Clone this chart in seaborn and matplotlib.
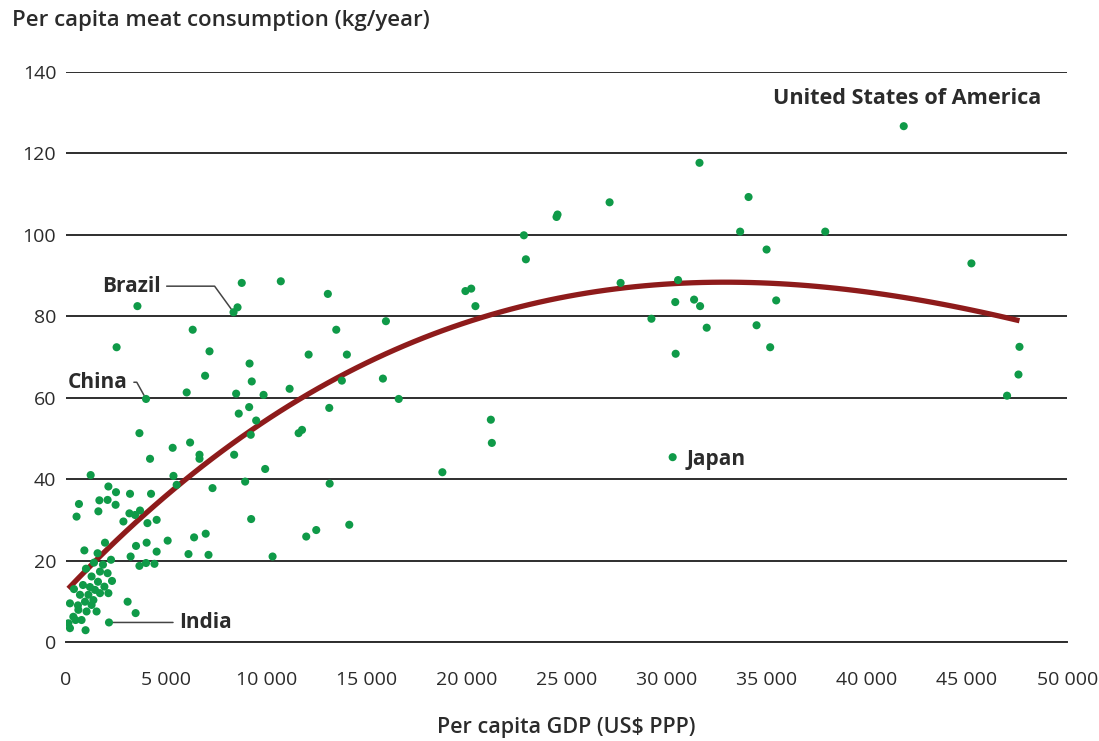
import numpy as np
import pandas as pd
import matplotlib.pyplot as plt
import seaborn as sns

# per capita GDP (US$ PPP) and meat consumption (kg/year)
gdp = [
    # low-income cluster
    200, 120, 200, 370, 480, 620, 700, 780, 950, 980, 1030, 1120, 1280, 1280,
    1370, 1450, 1530, 1700, 1700, 1920, 2080, 2120, 2150, 920, 1580, 1950,
    2250, 3080, 3480, 400, 850, 1000, 1200, 600, 1600, 1850, 2300, 1400,
    # lower-middle
    1235, 4200, 5330, 6200, 6670, 6670, 8400, 5370, 5530, 7320, 2120, 2500,
    3200, 4250, 650, 530, 1670, 2080, 2480, 1620, 3170, 3700, 3450, 2870,
    4070, 4530, 3500, 4030, 4530, 3230, 3670, 4000, 4420, 5080, 6120, 6400,
    6980, 7120,
    # upper-middle
    8780, 10730, 3570, 8570, 8370, 6330, 2530, 7170, 9170, 6950, 9280, 4000,
    6030, 8500, 9870, 8630, 9150, 9500, 3670, 9230, 9950, 11170, 13080, 13500,
    15980, 12120, 14030, 13780, 15830, 16620, 13150, 11620, 11790, 8950,
    13170, 9250, 12000, 12500, 14150, 10320,
    # high-income
    27150, 24500, 24550, 22870, 22970, 19950, 20240, 20450, 27700, 30570,
    30430, 29240, 30450, 21220, 21270, 18800, 30300, 41840, 31640, 34090,
    33670, 37920, 34990, 45220, 31370, 31670, 35470, 32000, 34490, 35170,
    47620, 47570, 47000,
]
meat = [
    9.5, 4.6, 3.4, 6.2, 5.4, 7.9, 11.6, 5.4, 9.9, 2.9, 7.5, 11.6, 9.1, 16.1,
    10.3, 12.8, 7.5, 12.0, 17.3, 13.6, 16.9, 12.0, 4.8, 22.5, 21.8, 24.4,
    20.2, 9.9, 7.1, 13.0, 14.0, 18.0, 13.5, 9.0, 14.8, 19.0, 15.0, 19.5,
    41.0, 45.0, 47.7, 49.0, 46.0, 45.0, 46.0, 40.8, 38.6, 37.8, 38.2, 36.8,
    36.4, 36.4, 33.9, 30.8, 34.8, 34.9, 33.7, 32.1, 31.6, 32.3, 31.2, 29.6,
    29.2, 30.0, 23.6, 24.4, 22.2, 21.0, 18.7, 19.4, 19.2, 24.9, 21.6, 25.7,
    26.6, 21.4,
    88.2, 88.6, 82.5, 82.2, 81.0, 76.7, 72.4, 71.4, 68.4, 65.4, 64.0, 59.7,
    61.3, 61.0, 60.7, 56.1, 57.7, 54.4, 51.3, 50.9, 42.5, 62.2, 85.5, 76.7,
    78.8, 70.6, 70.6, 64.2, 64.7, 59.7, 57.5, 51.3, 52.1, 39.4,
    38.9, 30.2, 25.9, 27.5, 28.8, 21.0,
    108.0, 104.4, 105.0, 99.9, 94.0, 86.2, 86.8, 82.5, 88.2, 88.9,
    83.5, 79.4, 70.8, 54.6, 48.9, 41.7, 45.4, 126.7, 117.7, 109.3,
    100.8, 100.8, 96.4, 93.0, 84.1, 82.5, 83.9, 77.2, 77.8, 72.4,
    72.5, 65.7, 60.5,
]

# labelled countries: (gdp, meat)
labelled = {
    "United States of America": (41840, 126.7),
    "Brazil": (8370, 81.0),
    "China": (4000, 59.7),
    "India": (2150, 4.8),
    "Japan": (30300, 45.4),
}

df = pd.DataFrame({"gdp": gdp, "meat": meat})

sns.set_style("white")
plt.rcParams["font.family"] = ["Open Sans", "DejaVu Sans"]

fig = plt.figure(figsize=(10.99, 7.41), dpi=100)
ax = fig.add_axes([0.060, 0.1336, 0.911, 0.7692])

green = "#0f9a48"
red = "#8e1b1b"
text_col = "#2b2b2b"

for yv in range(0, 141, 20):
    ax.axhline(yv, color="#2e2e2e", lw=1.4, zorder=1)

# fitted trend line
sns.regplot(data=df, x="gdp", y="meat", order=3, ci=None, scatter=False,
            line_kws=dict(color=red, lw=3.8, solid_capstyle="butt", zorder=3), ax=ax)
sns.scatterplot(data=df, x="gdp", y="meat", color=green, s=34, edgecolor="none",
                zorder=4, ax=ax)

ax.set_xlim(0, 50000)
ax.set_ylim(0, 140)
ax.set_xticks(range(0, 50001, 5000))
ax.set_xticklabels([f"{v:,}".replace(",", " ") for v in range(0, 50001, 5000)])
ax.set_yticks(range(0, 141, 20))
for s in ["top", "right", "left"]:
    ax.spines[s].set_visible(False)
ax.spines["bottom"].set_color("#2e2e2e")
ax.spines["bottom"].set_linewidth(1.4)
ax.tick_params(axis="x", direction="out", length=10, width=1.2, color="#2e2e2e",
               labelsize=14, labelcolor=text_col, pad=11)
ax.tick_params(axis="y", length=0, labelsize=14, labelcolor=text_col, pad=7)
ax.set_xlabel("Per capita GDP (US$ PPP)", fontsize=15.5, fontweight="semibold",
              color=text_col, labelpad=20)
ax.set_ylabel("")
fig.text(0.011, 0.972, "Per capita meat consumption (kg/year)", fontsize=16,
         fontweight="semibold", color=text_col, va="center", ha="left")

lab_kw = dict(fontsize=15, fontweight="bold", color=text_col)
leader = dict(arrowstyle="-", color="#444444", lw=1.1, shrinkA=2, shrinkB=3)

ax.text(48700, 133.5, "United States of America", ha="right", va="center",
        fontsize=15.6, fontweight="bold", color=text_col)

x, y = labelled["Brazil"]
ax.annotate("Brazil", xy=(x, y), xytext=(1800, 87.4), ha="left", va="center",
            arrowprops=dict(connectionstyle="angle,angleA=0,angleB=126,rad=0", **leader),
            **lab_kw)

x, y = labelled["China"]
ax.annotate("China", xy=(x, y), xytext=(100, 63.8), ha="left", va="center",
            arrowprops=dict(connectionstyle="angle,angleA=0,angleB=119,rad=0", **leader),
            **lab_kw)

x, y = labelled["India"]
ax.annotate("India", xy=(x, y), xytext=(5650, y), ha="left", va="center",
            arrowprops=dict(**leader), **lab_kw)

x, y = labelled["Japan"]
ax.text(x + 700, y - 0.6, "Japan", ha="left", va="center", **lab_kw)

fig.savefig("out.png", dpi=100)
